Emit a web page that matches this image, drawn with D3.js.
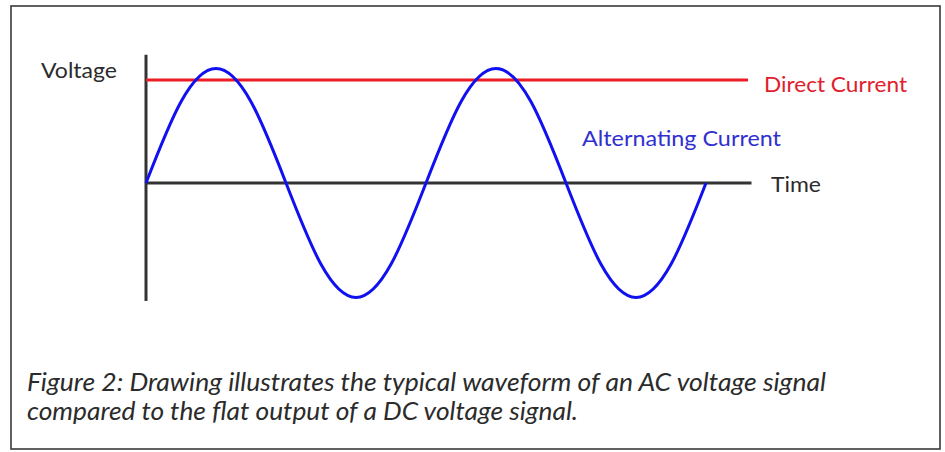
<!DOCTYPE html>
<html>
<head>
<meta charset="utf-8">
<script src="https://cdn.jsdelivr.net/npm/d3@7"></script>
<style>
  html, body { margin: 0; padding: 0; background: #ffffff; }
  svg { display: block; }
  text { font-family: Lato, "Open Sans", sans-serif; }
</style>
</head>
<body>
<svg id="chart" width="945" height="452"></svg>
<script>
// ---- data ----
// time in eighths of a period
const timeSteps = [0, 1, 2, 3, 4, 5, 6, 7, 8, 9, 10, 11, 12, 13, 14, 15, 16];
const acVoltage = [0, 0.71, 1, 0.71, 0, -0.71, -1, -0.71, 0, 0.71, 1, 0.71, 0, -0.71, -1, -0.71, 0];
const dcTime = [0, 17.2];
const dcVoltage = [0.9, 0.9];
const timeAxisExtent = [0, 17.3];
const voltageAxisExtent = [-1.03, 1.12];
const labels = {
  voltage: "Voltage",
  time: "Time",
  dc: "Direct Current",
  ac: "Alternating Current"
};
const captionLines = [
  "Figure 2: Drawing illustrates the typical waveform of an AC voltage signal",
  "compared to the flat output of a DC voltage signal."
];

// ---- drawing ----
const svg = d3.select("#chart");

svg.append("rect")
  .attr("x", 11).attr("y", 6).attr("width", 929).attr("height", 443)
  .attr("fill", "#ffffff").attr("stroke", "#3a3a3a").attr("stroke-width", 1.6);

const x = d3.scaleLinear().domain([0, 16]).range([146, 706]);
const y = d3.scaleLinear().domain([-1, 1]).range([297.5, 68.5]);

// voltage axis (vertical)
svg.append("line")
  .attr("x1", x(0)).attr("x2", x(0))
  .attr("y1", y(voltageAxisExtent[1])).attr("y2", y(voltageAxisExtent[0]))
  .attr("stroke", "#333").attr("stroke-width", 3);

// time axis (horizontal)
svg.append("line")
  .attr("x1", x(timeAxisExtent[0])).attr("x2", x(timeAxisExtent[1]))
  .attr("y1", y(0)).attr("y2", y(0))
  .attr("stroke", "#333").attr("stroke-width", 3);

// DC line
const dcData = dcTime.map((t, i) => ({ t, v: dcVoltage[i] }));
svg.append("path")
  .datum(dcData)
  .attr("fill", "none")
  .attr("stroke", "#ec1c24")
  .attr("stroke-width", 3)
  .attr("d", d3.line().x(d => x(d.t)).y(d => y(d.v)));

// AC waveform
const acData = timeSteps.map((t, i) => ({ t, v: acVoltage[i] }));
svg.append("path")
  .datum(acData)
  .attr("fill", "none")
  .attr("stroke", "#1010f0")
  .attr("stroke-width", 3)
  .attr("stroke-linejoin", "round")
  .attr("d", d3.line().curve(d3.curveNatural).x(d => x(d.t)).y(d => y(d.v)));

// labels
svg.append("text")
  .attr("x", 41).attr("y", 78)
  .attr("font-size", 22).attr("fill", "#2b2b2b")
  .attr("textLength", 76).attr("lengthAdjust", "spacingAndGlyphs")
  .text(labels.voltage);

svg.append("text")
  .attr("x", 771).attr("y", 192)
  .attr("font-size", 22).attr("fill", "#2b2b2b")
  .attr("textLength", 50).attr("lengthAdjust", "spacingAndGlyphs")
  .text(labels.time);

svg.append("text")
  .attr("x", 764).attr("y", 92)
  .attr("font-size", 22).attr("fill", "#e0202c")
  .attr("textLength", 143).attr("lengthAdjust", "spacingAndGlyphs")
  .text(labels.dc);

svg.append("text")
  .attr("x", 582).attr("y", 146)
  .attr("font-size", 22).attr("fill", "#3030d0")
  .attr("textLength", 199).attr("lengthAdjust", "spacingAndGlyphs")
  .text(labels.ac);

// caption
const capLengths = [799, 551];
svg.selectAll("text.caption")
  .data(captionLines)
  .enter().append("text")
  .attr("class", "caption")
  .attr("x", 27)
  .attr("y", (d, i) => 391 + i * 29)
  .attr("font-size", 25)
  .attr("font-style", "italic")
  .attr("fill", "#2b2b2b")
  .attr("textLength", (d, i) => capLengths[i])
  .attr("lengthAdjust", "spacingAndGlyphs")
  .text(d => d);
</script>
</body>
</html>
